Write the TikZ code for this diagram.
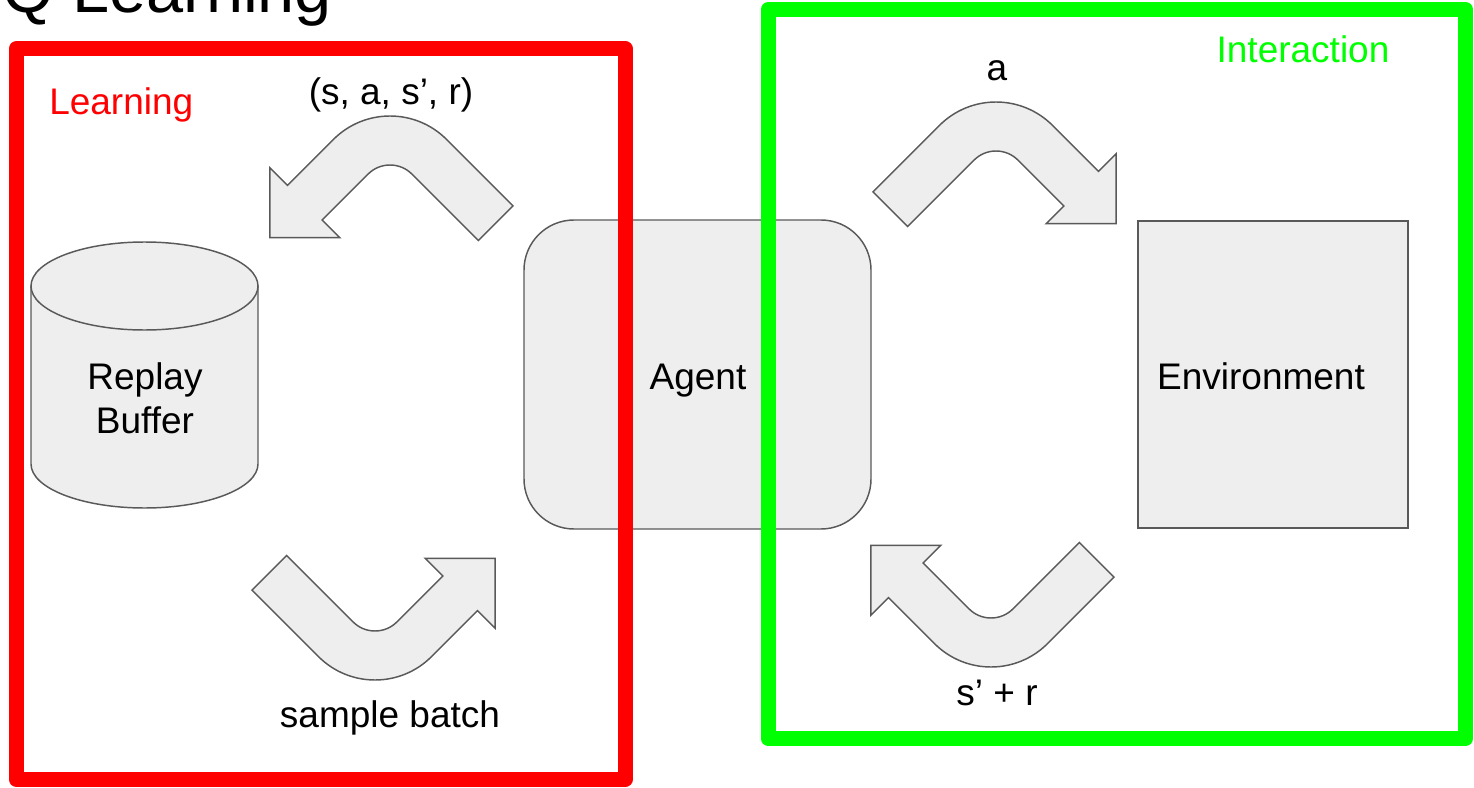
\documentclass[tikz,border=0pt]{standalone}
\usepackage{fontspec}
\setmainfont{Liberation Sans}

\definecolor{shapefill}{HTML}{EEEEEE}
\definecolor{shapeline}{HTML}{595959}
\definecolor{learnred}{HTML}{FF0000}
\definecolor{interactgreen}{HTML}{00FF00}

% bent block arrow: arc centre at the origin, bend on top, head on the left
\newcommand{\bentarrow}[1]{%
  \draw[blockarrow, #1] (123.04,9.90) -- (56.57,-56.57)
    arc[start angle=-45, end angle=-135, radius=80]
    -- (-102.53,-10.61) -- (-120.2,-28.28) -- (-120.2,41.72)
    -- (-50.2,41.72) -- (-67.88,24.04) -- (-21.92,-21.92)
    arc[start angle=-135, end angle=-45, radius=31]
    -- (88.39,44.55) -- cycle;}

\begin{document}
\begin{tikzpicture}[x=0.75pt, y=-0.75pt,
  txt/.style={font=\fontsize{27.75}{33}\selectfont, inner sep=0pt, anchor=base},
  blockarrow/.style={fill=shapefill, draw=shapeline, line width=1.1pt},
  box/.style={fill=shapefill, draw=shapeline, line width=1.1pt, inner sep=0pt},
  frame/.style={line width=11.25pt, line join=round}]
  \useasboundingbox (0,0) rectangle (1474,788);

  \node[anchor=base west, inner sep=0pt, font=\fontsize{50}{60}\selectfont] (title) at (2,13) {Q Learning};

  % replay buffer drum
  \draw[blockarrow] (31,286) -- (31,464)
    arc[start angle=180, end angle=0, x radius=113.5, y radius=44] -- (258,286) -- cycle;
  \draw[blockarrow] (144.5,286) ellipse [x radius=113.5, y radius=44];
  \node[txt] (replay) at (145,389) {Replay};
  \node[txt] (buffer) at (145,433) {Buffer};

  \node[box, rounded corners=37.5pt, minimum width=260.25pt, minimum height=231.75pt] (agent) at (697.5,374.5) {};
  \node[txt] (agentlabel) at (698,389) {Agent};

  \node[box, minimum width=202.5pt, minimum height=230.25pt] (env) at (1273,374.5) {};
  \node[txt] (envlabel) at (1261,389) {Environment};

  % the four bent arrows
  \bentarrow{shift={(390,196)}}
  \bentarrow{shift={(996,182)}, xscale=-1}
  \bentarrow{shift={(375,600)}, xscale=-1, yscale=-1}
  \bentarrow{shift={(991,587)}, yscale=-1}

  \node[txt] (store) at (391,105) {(s, a, s’, r)};
  \node[txt] (sample) at (390,727) {sample batch};
  \node[txt] (action) at (997,81) {a};
  \node[txt] (reward) at (997,705) {s’ + r};

  % learning and interaction frames
  \draw[frame, learnred] (16.5,48.5) rectangle (625,779.5);
  \draw[frame, interactgreen] (768,9.5) rectangle (1465.5,738.5);
  \node[txt, anchor=base west, text=learnred] (learning) at (49,115) {Learning};
  \node[txt, text=interactgreen] (interaction) at (1303,63) {Interaction};
\end{tikzpicture}
\end{document}
